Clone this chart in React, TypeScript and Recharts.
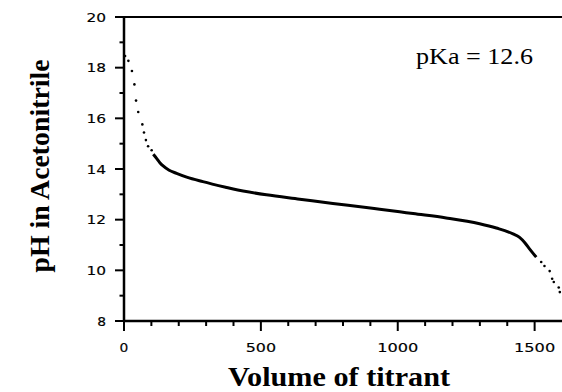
import {
  ComposedChart,
  Line,
  Scatter,
  XAxis,
  YAxis,
  ReferenceLine,
  Label,
} from "recharts";

// titration curve, read as (volume, pH)
const EARLY_POINTS = [
  { v: 4, ph: 18.46 },
  { v: 16, ph: 18.27 },
  { v: 29, ph: 17.87 },
  { v: 38, ph: 17.34 },
  { v: 44, ph: 16.7 },
  { v: 52, ph: 16.25 },
  { v: 67, ph: 15.76 },
  { v: 73, ph: 15.44 },
  { v: 80, ph: 15.14 },
  { v: 88, ph: 14.9 },
  { v: 101, ph: 14.74 },
];

// dense part of the run, drawn as a heavy trace
const PLATEAU_POINTS = [
  { v: 107, ph: 14.58 },
  { v: 119, ph: 14.42 },
  { v: 131, ph: 14.25 },
  { v: 143, ph: 14.12 },
  { v: 165, ph: 13.95 },
  { v: 192, ph: 13.83 },
  { v: 229, ph: 13.68 },
  { v: 288, ph: 13.5 },
  { v: 375, ph: 13.27 },
  { v: 399, ph: 13.21 },
  { v: 520, ph: 12.98 },
  { v: 642, ph: 12.81 },
  { v: 763, ph: 12.64 },
  { v: 885, ph: 12.48 },
  { v: 934, ph: 12.41 },
  { v: 1007, ph: 12.31 },
  { v: 1056, ph: 12.24 },
  { v: 1177, ph: 12.07 },
  { v: 1299, ph: 11.84 },
  { v: 1360, ph: 11.67 },
  { v: 1421, ph: 11.44 },
  { v: 1445, ph: 11.3 },
  { v: 1465, ph: 11.08 },
  { v: 1482, ph: 10.84 },
  { v: 1506, ph: 10.52 },
];

const LATE_POINTS = [
  { v: 1524, ph: 10.33 },
  { v: 1536, ph: 10.17 },
  { v: 1555, ph: 9.97 },
  { v: 1564, ph: 9.67 },
  { v: 1570, ph: 9.54 },
  { v: 1588, ph: 9.32 },
  { v: 1592, ph: 9.14 },
];

const X_TICKS = [0, 100, 200, 300, 400, 500, 600, 700, 800, 900, 1000, 1100, 1200, 1300, 1400, 1500];
const Y_TICKS = [8, 9, 10, 11, 12, 13, 14, 15, 16, 17, 18, 19, 20];

const SANS = "'DejaVu Sans', sans-serif";
const SERIF = "'Liberation Serif', 'Times New Roman', serif";

// wide, spaced digits for the tick labels
const digitWidth = (v: number) => String(v).length * 10.8 - 2;

function XTick({ x, y, payload }: any) {
  const major = payload.value % 500 === 0;
  return (
    <g>
      <line x1={x} x2={x} y1={y} y2={y + (major ? 10 : 5)} stroke="#000" strokeWidth={2} />
      {major && (
        <text
          x={x}
          y={y + 31}
          textAnchor="middle"
          fontFamily={SANS}
          fontSize={13}
          textLength={digitWidth(payload.value)}
          lengthAdjust="spacingAndGlyphs"
          stroke="#000"
          strokeWidth={0.15}
          fill="#000"
        >
          {payload.value}
        </text>
      )}
    </g>
  );
}

function YTick({ x, y, payload }: any) {
  const major = payload.value % 2 === 0;
  return (
    <g>
      <line x1={x - (major ? 9 : 4.5)} x2={x} y1={y} y2={y} stroke="#000" strokeWidth={2} />
      {major && (
        <text
          x={x - 18}
          y={y + 4.5}
          textAnchor="end"
          fontFamily={SANS}
          fontSize={12.5}
          textLength={digitWidth(payload.value)}
          lengthAdjust="spacingAndGlyphs"
          stroke="#000"
          strokeWidth={0.15}
          fill="#000"
        >
          {payload.value}
        </text>
      )}
    </g>
  );
}

const Dot = (props: any) => <circle cx={props.cx} cy={props.cy} r={1.3} fill="#000" />;

export default function App() {
  return (
    <div style={{ position: "fixed", left: 0, top: 0, background: "#fff" }}>
      <ComposedChart
        width={562}
        height={392}
        margin={{ top: 17, right: 0, bottom: 0, left: 0 }}
      >
        <XAxis
          dataKey="v"
          type="number"
          domain={[0, 1600]}
          ticks={X_TICKS}
          interval={0}
          height={71}
          tickSize={0}
          tickMargin={0}
          tickLine={false}
          tick={<XTick />}
          axisLine={{ stroke: "#000", strokeWidth: 2.5 }}
          allowDataOverflow
        >
          <Label
            content={() => (
              <text
                x={339}
                y={386}
                textAnchor="middle"
                fontFamily={SERIF}
                fontWeight="bold"
                fontSize={28}
                textLength={222}
                lengthAdjust="spacingAndGlyphs"
                fill="#000"
              >
                Volume of titrant
              </text>
            )}
          />
        </XAxis>
        <YAxis
          dataKey="ph"
          type="number"
          domain={[8, 20]}
          ticks={Y_TICKS}
          interval={0}
          width={124}
          tickSize={0}
          tickMargin={0}
          tickLine={false}
          tick={<YTick />}
          axisLine={{ stroke: "#000", strokeWidth: 2.5 }}
          allowDataOverflow
        >
          <Label
            content={() => (
              <text
                x={49}
                y={166}
                transform="rotate(-90 49 166)"
                textAnchor="middle"
                fontFamily={SERIF}
                fontWeight="bold"
                fontSize={28}
                textLength={213}
                lengthAdjust="spacingAndGlyphs"
                fill="#000"
              >
                pH in Acetonitrile
              </text>
            )}
          />
        </YAxis>
        <ReferenceLine y={20} stroke="#000" strokeWidth={2} />
        <Line
          data={PLATEAU_POINTS}
          dataKey="ph"
          type="monotone"
          stroke="#000"
          strokeWidth={3}
          dot={false}
          activeDot={false}
          isAnimationActive={false}
        />
        <Scatter data={EARLY_POINTS} dataKey="ph" shape={<Dot />} isAnimationActive={false} />
        <Scatter data={LATE_POINTS} dataKey="ph" shape={<Dot />} isAnimationActive={false} />
        <ReferenceLine
          y={20}
          stroke="none"
          label={() => (
            <text
              x={416}
              y={64}
              fontFamily={SERIF}
              fontSize={24}
              textLength={117}
              lengthAdjust="spacingAndGlyphs"
              fill="#000"
            >
              pKa = 12.6
            </text>
          )}
        />
      </ComposedChart>
    </div>
  );
}
